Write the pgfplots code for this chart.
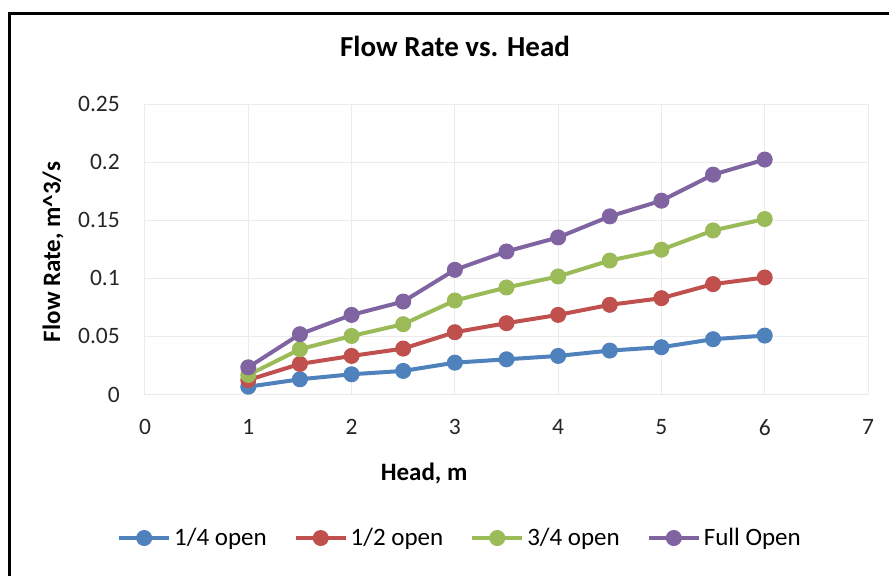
\documentclass[border=0pt]{standalone}
\usepackage{fontspec}
\setmainfont{Carlito}
\usepackage{pgfplots}
\pgfplotsset{compat=1.18}
\definecolor{c1}{HTML}{4F81BD}
\definecolor{c2}{HTML}{C0504D}
\definecolor{c3}{HTML}{9BBB59}
\definecolor{c4}{HTML}{8064A2}
\definecolor{gridc}{HTML}{EBEBEB}
\begin{document}
\begin{tikzpicture}
\useasboundingbox (0pt,0pt) rectangle (889pt,-576pt);
\fill[white] (0pt,0pt) rectangle (889pt,-576pt);
\draw[line width=3pt] (9pt,-576pt) -- (9pt,-13pt) -- (889pt,-13pt);
\begin{axis}[
 at={(145pt,-394.5pt)}, anchor=south west,
 scale only axis, width=723pt, height=290.5pt,
 xmin=0, xmax=7, ymin=0, ymax=0.25,
 xtick={0,1,2,3,4,5,6,7},
 ytick={0,0.05,0.1,0.15,0.2,0.25},
 yticklabels={0,0.05,0.1,0.15,0.2,0.25},
 scaled y ticks=false,
 major tick length=0pt,
 grid=major, grid style={gridc, line width=1pt},
 axis line style={gridc, line width=1pt},
 tick style={draw=none},
 clip=false,
 /pgf/number format/assume math mode=true,
 ticklabel style={font=\fontsize{23.5}{26}\selectfont, text=black!85, inner sep=0pt},
 xticklabel style={anchor=north, yshift=-25pt},
 yticklabel style={anchor=east, xshift=-25pt},
 title={Flow Rate vs. Head},
 title style={at={(axis description cs:0.4288,1.176)}, anchor=center, font=\fontsize{29}{32}\selectfont\bfseries},
 xlabel={Head, m},
 xlabel style={at={(axis description cs:0.386,-0.270)}, anchor=center, font=\fontsize{25}{28}\selectfont\bfseries},
 ylabel={Flow Rate, m\textasciicircum 3/s},
 ylabel style={at={(axis description cs:-0.1272,0.4905)}, anchor=center, font=\fontsize{25}{28}\selectfont\bfseries},
 legend columns=4,
 legend style={at={(axis description cs:0.4357,-0.494)}, anchor=center, draw=none, fill=none,
   font=\fontsize{25}{28}\selectfont,
   /tikz/every even column/.append style={column sep=25pt},
   /tikz/every odd column/.append style={column sep=1pt}},
 legend image code/.code={\draw[mark repeat=2,mark phase=2] plot coordinates {(0pt,0pt) (25pt,0pt) (50pt,0pt)};},
 every axis plot/.append style={line width=4pt, mark=*, mark size=7.5pt, mark options={solid, line width=1pt}},
]
\addplot[c1] coordinates {(1,0.0067) (1.5,0.0131) (2,0.0174) (2.5,0.0203) (3,0.0274) (3.5,0.0303) (4,0.0332) (4.5,0.0378) (5,0.0407) (5.5,0.0476) (6,0.0507)};
\addlegendentry{1/4 open}
\addplot[c2] coordinates {(1,0.0125) (1.5,0.0263) (2,0.0332) (2.5,0.0395) (3,0.0536) (3.5,0.0614) (4,0.0685) (4.5,0.0772) (5,0.0829) (5.5,0.0950) (6,0.1007)};
\addlegendentry{1/2 open}
\addplot[c3] coordinates {(1,0.0168) (1.5,0.0390) (2,0.0504) (2.5,0.0605) (3,0.0809) (3.5,0.0921) (4,0.1016) (4.5,0.1153) (5,0.1246) (5.5,0.1412) (6,0.1510)};
\addlegendentry{3/4 open}
\addplot[c4] coordinates {(1,0.0234) (1.5,0.0519) (2,0.0685) (2.5,0.0800) (3,0.1073) (3.5,0.1231) (4,0.1352) (4.5,0.1533) (5,0.1668) (5.5,0.1892) (6,0.2022)};
\addlegendentry{Full Open}
\end{axis}
\end{tikzpicture}
\end{document}
